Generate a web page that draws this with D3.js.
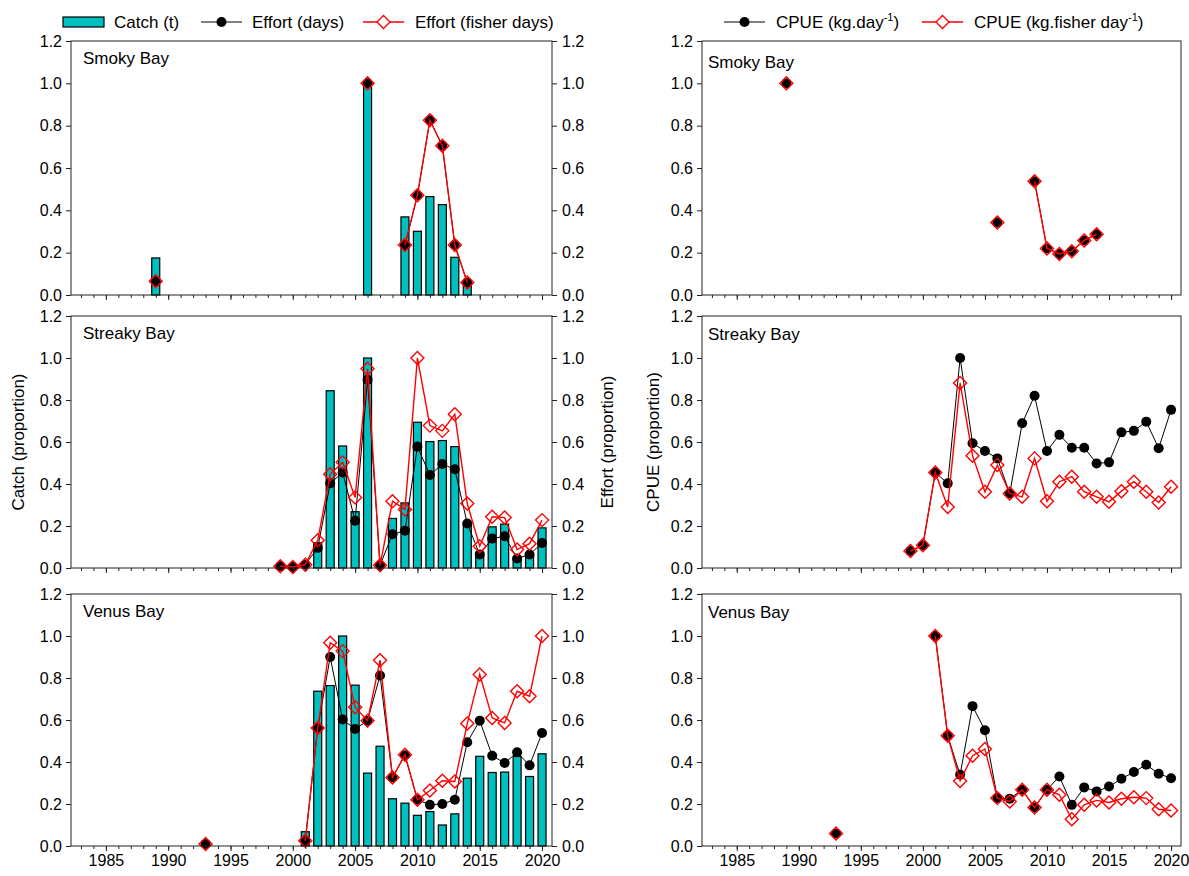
<!DOCTYPE html>
<html>
<head>
<meta charset="utf-8">
<script src="https://cdn.jsdelivr.net/npm/d3@7"></script>
<style>
  body { margin: 0; background: #fff; }
  text { font-family: Arial, "Liberation Sans", sans-serif; fill: #000; }
</style>
</head>
<body>
<svg id="chart" width="1189" height="876"></svg>
<script>
// ---- data (proportions) ----
const smokyYears = [1989, 2006, 2009, 2010, 2011, 2012, 2013, 2014];
const smokyCatch = [0.175, 1.0, 0.369, 0.301, 0.465, 0.427, 0.178, 0.053];
const smokyEffortDays = [0.065, 1.0, 0.236, 0.471, 0.826, 0.705, 0.236, 0.059];
const smokyEffortFisher = [0.065, 1.0, 0.236, 0.471, 0.826, 0.705, 0.236, 0.059];
const smokyCpueDays = [1.0, 0.342, 0.537, 0.22, 0.194, 0.207, 0.258, 0.287];
const smokyCpueFisher = [1.0, 0.342, 0.537, 0.22, 0.194, 0.207, 0.258, 0.287];
const smokyCpueYears = [1989, 2006, 2009, 2010, 2011, 2012, 2013, 2014];

const streakyYears = d3.range(1999, 2021);
const streakyCatch = [null, null, null, 0.12, 0.844, 0.581, 0.268, 1.0, null, 0.236, 0.31,
  0.694, 0.602, 0.607, 0.578, 0.21, 0.075, 0.196, 0.209, 0.045, 0.055, 0.191];
const streakyEffortDays = [0.008, 0.005, 0.016, 0.096, 0.403, 0.455, 0.225, 0.896, 0.013, 0.161, 0.177,
  0.578, 0.443, 0.495, 0.47, 0.212, 0.064, 0.14, 0.151, 0.045, 0.064, 0.119];
const streakyEffortFisher = [0.008, 0.005, 0.016, 0.132, 0.446, 0.503, 0.336, 0.949, 0.013, 0.318, 0.279,
  1.0, 0.678, 0.653, 0.732, 0.307, 0.104, 0.244, 0.24, 0.088, 0.116, 0.228];
const streakyCpueYears = d3.range(1999, 2021);
const streakyCpueDays = [0.081, 0.108, 0.455, 0.403, 1.0, 0.594, 0.557, 0.522, 0.355, 0.689, 0.82,
  0.557, 0.634, 0.573, 0.573, 0.498, 0.503, 0.646, 0.653, 0.697, 0.57, 0.753];
const streakyCpueFisher = [0.081, 0.108, 0.455, 0.291, 0.881, 0.535, 0.363, 0.49, 0.355, 0.339, 0.522,
  0.318, 0.411, 0.435, 0.363, 0.339, 0.315, 0.366, 0.411, 0.363, 0.312, 0.387];

const venusYears = [1993].concat(d3.range(2001, 2021));
const venusCatch = [null, 0.068, 0.737, 0.764, 1.0, 0.766, 0.347, 0.475, 0.225, 0.204, 0.146,
  0.164, 0.1, 0.153, 0.323, 0.427, 0.35, 0.352, 0.427, 0.331, 0.439];
const venusEffortDays = [0.01, 0.025, 0.562, 0.9, 0.602, 0.557, 0.597, 0.812, 0.326, 0.432, 0.22,
  0.196, 0.2, 0.22, 0.494, 0.597, 0.43, 0.395, 0.446, 0.384, 0.538];
const venusEffortFisher = [0.01, 0.025, 0.562, 0.968, 0.928, 0.661, 0.597, 0.885, 0.326, 0.435, 0.22,
  0.264, 0.311, 0.307, 0.583, 0.817, 0.61, 0.586, 0.737, 0.713, 1.0];
const venusCpueYears = [1993].concat(d3.range(2001, 2021));
const venusCpueDays = [0.06, 1.0, 0.525, 0.339, 0.666, 0.551, 0.228, 0.225, 0.268, 0.183, 0.268,
  0.331, 0.196, 0.279, 0.26, 0.283, 0.32, 0.352, 0.387, 0.344, 0.323];
const venusCpueFisher = [0.06, 1.0, 0.525, 0.31, 0.43, 0.462, 0.228, 0.212, 0.268, 0.183, 0.268,
  0.244, 0.127, 0.196, 0.217, 0.207, 0.225, 0.232, 0.228, 0.175, 0.169];

const yTicks = [0, 0.2, 0.4, 0.6, 0.8, 1.0, 1.2];
const xMajorTicks = [1985, 1990, 1995, 2000, 2005, 2010, 2015, 2020];
const xMinorTicks = d3.range(1983, 2021);

const regions = [
  {name: 'Smoky Bay', years: smokyYears, catchP: smokyCatch, days: smokyEffortDays, fisher: smokyEffortFisher,
   cpueYears: smokyCpueYears, cpueDays: smokyCpueDays, cpueFisher: smokyCpueFisher},
  {name: 'Streaky Bay', years: streakyYears, catchP: streakyCatch, days: streakyEffortDays, fisher: streakyEffortFisher,
   cpueYears: streakyCpueYears, cpueDays: streakyCpueDays, cpueFisher: streakyCpueFisher},
  {name: 'Venus Bay', years: venusYears, catchP: venusCatch, days: venusEffortDays, fisher: venusEffortFisher,
   cpueYears: venusCpueYears, cpueDays: venusCpueDays, cpueFisher: venusCpueFisher}
];

// ---- layout ----
const LEFT = [71, 552];
const RIGHT = [702, 1181];
const ROWS = [[41, 295], [316, 568], [594, 846]];
const RED = '#ff0000';
const TEAL = '#00bfbf';

const svg = d3.select('#chart');

const diamond = r => `M0,${-r}L${r},0L0,${r}L${-r},0Z`;

// split into runs of consecutive years so gaps are not joined
function segments(years, values) {
  const out = [];
  let cur = [];
  years.forEach((yr, i) => {
    if (values[i] == null) return;
    if (cur.length && yr - cur[cur.length - 1].year > 1) { out.push(cur); cur = []; }
    cur.push({year: yr, v: values[i]});
  });
  if (cur.length) out.push(cur);
  return out;
}

function drawFrame(g, x, y, opts) {
  const [x0, x1] = x.range();
  const [y1, y0] = y.range();

  g.append('rect')
    .attr('x', x0).attr('y', y0)
    .attr('width', x1 - x0).attr('height', y1 - y0)
    .attr('fill', 'none').attr('stroke', '#222').attr('stroke-width', 1);

  const styleAxis = sel => {
    sel.select('.domain').remove();
    sel.selectAll('line').attr('stroke', '#222');
    sel.selectAll('text').attr('font-size', 16).attr('font-family', 'Arial, "Liberation Sans", sans-serif');
  };

  g.append('g').attr('transform', `translate(${x0},0)`)
    .call(d3.axisLeft(y).tickValues(yTicks).tickFormat(d3.format('.1f')).tickSize(5).tickPadding(4))
    .call(styleAxis);

  if (opts.rightAxis) {
    g.append('g').attr('transform', `translate(${x1},0)`)
      .call(d3.axisRight(y).tickValues(yTicks).tickFormat(d3.format('.1f')).tickSize(5).tickPadding(5))
      .call(styleAxis);
  }

  g.append('g').attr('transform', `translate(0,${y1})`)
    .call(d3.axisBottom(x).tickValues(xMinorTicks).tickFormat('').tickSize(3))
    .call(styleAxis);

  g.append('g').attr('transform', `translate(0,${y1})`)
    .call(d3.axisBottom(x).tickValues(xMajorTicks).tickFormat(opts.labels ? d3.format('d') : '')
      .tickSize(5).tickPadding(4))
    .call(styleAxis);
}

function drawSeries(g, x, y, years, values, kind) {
  const line = d3.line().x(d => x(d.year)).y(d => y(d.v));
  const segs = segments(years, values);
  const isRed = kind === 'red';

  g.append('g').selectAll('path')
    .data(segs.filter(s => s.length > 1))
    .join('path')
    .attr('d', line)
    .attr('fill', 'none')
    .attr('stroke', isRed ? RED : '#000')
    .attr('stroke-width', isRed ? 1.4 : 1);

  const pts = segs.flat();
  if (isRed) {
    g.append('g').selectAll('path')
      .data(pts)
      .join('path')
      .attr('transform', d => `translate(${x(d.year)},${y(d.v)})`)
      .attr('d', diamond(6.5))
      .attr('fill', 'none')
      .attr('stroke', RED)
      .attr('stroke-width', 1.4);
  } else {
    g.append('g').selectAll('circle')
      .data(pts)
      .join('circle')
      .attr('cx', d => x(d.year))
      .attr('cy', d => y(d.v))
      .attr('r', 5)
      .attr('fill', '#000');
  }
}

regions.forEach((r, i) => {
  const [top, bottom] = ROWS[i];
  const y = d3.scaleLinear().domain([0, 1.2]).range([bottom, top]);
  const isLast = i === ROWS.length - 1;

  // left column: catch bars + effort
  const xl = d3.scaleLinear().domain([1982.2, 2020.8]).range(LEFT);
  const gl = svg.append('g');

  const barW = 8;
  gl.append('g').selectAll('rect')
    .data(r.years.map((yr, k) => ({year: yr, v: r.catchP[k]})).filter(d => d.v != null))
    .join('rect')
    .attr('x', d => xl(d.year) - barW / 2)
    .attr('y', d => y(d.v))
    .attr('width', barW)
    .attr('height', d => y(0) - y(d.v))
    .attr('fill', TEAL)
    .attr('stroke', '#000')
    .attr('stroke-width', 1.2);

  drawSeries(gl, xl, y, r.years, r.days, 'black');
  drawSeries(gl, xl, y, r.years, r.fisher, 'red');
  drawFrame(gl, xl, y, {rightAxis: true, labels: isLast});

  gl.append('text').attr('x', LEFT[0] + 12).attr('y', top + 23)
    .attr('font-size', 17).text(r.name);

  // right column: CPUE
  const xr = d3.scaleLinear().domain([1982.2, 2020.8]).range(RIGHT);
  const gr = svg.append('g');
  drawSeries(gr, xr, y, r.cpueYears, r.cpueDays, 'black');
  drawSeries(gr, xr, y, r.cpueYears, r.cpueFisher, 'red');
  drawFrame(gr, xr, y, {rightAxis: false, labels: isLast});

  gr.append('text').attr('x', RIGHT[0] + 6).attr('y', top + (i === 0 ? 27 : 24))
    .attr('font-size', 17).text(r.name);
});

// ---- axis titles ----
const midY = (ROWS[1][0] + ROWS[1][1]) / 2;
[['Catch (proportion)', 18], ['Effort (proportion)', 607], ['CPUE (proportion)', 653]].forEach(([t, xPos]) => {
  svg.append('text')
    .attr('transform', `translate(${xPos},${midY}) rotate(-90)`)
    .attr('text-anchor', 'middle')
    .attr('dominant-baseline', 'central')
    .attr('font-size', 17)
    .text(t);
});

// ---- legends ----
const legY = 22;
const leg = svg.append('g').attr('font-size', 17);

leg.append('rect').attr('x', 63).attr('y', legY - 5).attr('width', 41).attr('height', 10)
  .attr('fill', TEAL).attr('stroke', '#000').attr('stroke-width', 1.2);
leg.append('text').attr('x', 114).attr('y', legY + 6).text('Catch (t)');

function legendItem(x0, kind) {
  const isRed = kind === 'red';
  leg.append('line').attr('x1', x0).attr('x2', x0 + 41).attr('y1', legY).attr('y2', legY)
    .attr('stroke', isRed ? RED : '#000').attr('stroke-width', isRed ? 1.4 : 1);
  if (isRed) {
    leg.append('path').attr('transform', `translate(${x0 + 20.5},${legY})`).attr('d', diamond(6.5))
      .attr('fill', '#fff').attr('stroke', RED).attr('stroke-width', 1.4);
  } else {
    leg.append('circle').attr('cx', x0 + 20.5).attr('cy', legY).attr('r', 5).attr('fill', '#000');
  }
}

legendItem(201, 'black');
leg.append('text').attr('x', 252).attr('y', legY + 6).text('Effort (days)');
legendItem(363, 'red');
leg.append('text').attr('x', 415).attr('y', legY + 6).text('Effort (fisher days)');

legendItem(724, 'black');
const t1 = leg.append('text').attr('x', 776).attr('y', legY + 6).text('CPUE (kg.day');
t1.append('tspan').attr('dy', -7).attr('font-size', 11).text('-1');
t1.append('tspan').attr('dy', 7).text(')');

legendItem(922, 'red');
const t2 = leg.append('text').attr('x', 974).attr('y', legY + 6).text('CPUE (kg.fisher day');
t2.append('tspan').attr('dy', -7).attr('font-size', 11).text('-1');
t2.append('tspan').attr('dy', 7).text(')');
</script>
</body>
</html>
